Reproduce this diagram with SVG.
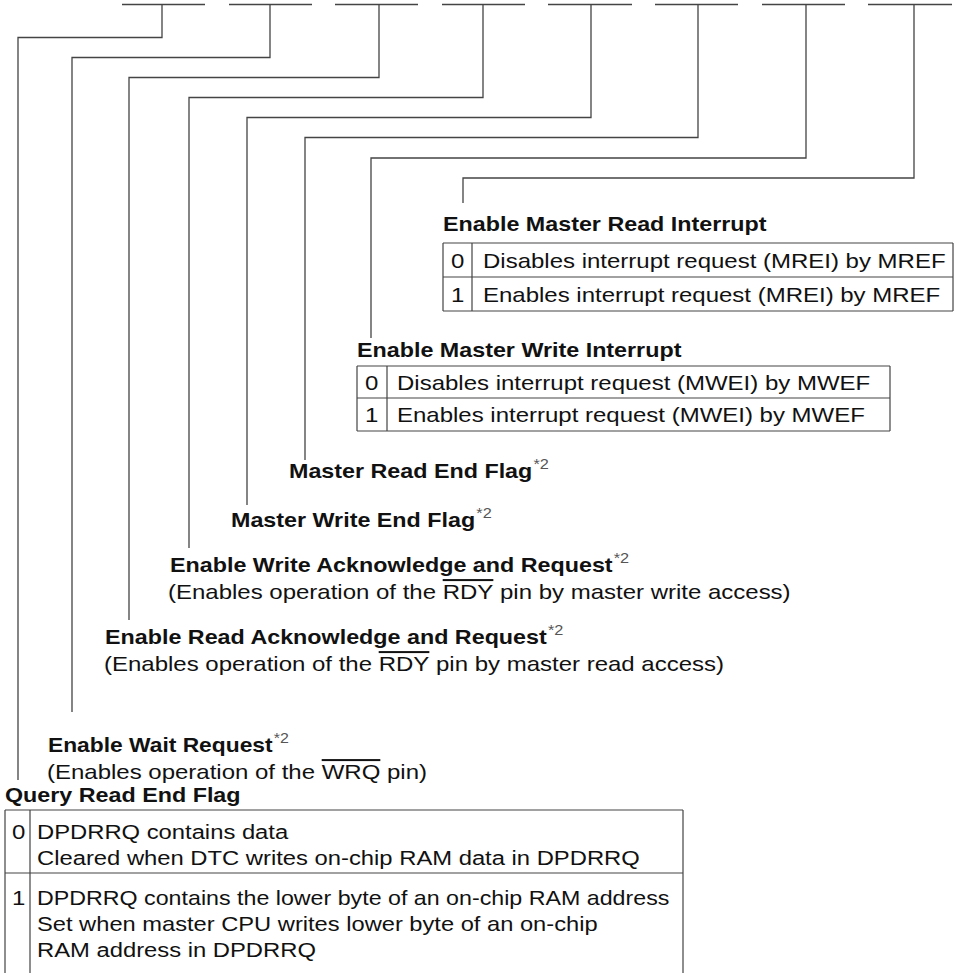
<svg xmlns="http://www.w3.org/2000/svg" width="954" height="973" viewBox="0 0 954 973">
<style>
  .ln { fill: none; stroke: #444; stroke-width: 1.3; }
  .tb { fill: none; stroke: #444; stroke-width: 1.2; }
  text { font-family: "Liberation Sans", Arial, sans-serif; font-size: 20px; fill: #111; }
  .b { font-weight: bold; }
  .sup { font-size: 14px; font-weight: normal; fill: #555; }
  .ov { text-decoration: overline; }
</style>
<rect width="954" height="973" fill="#fff"/>

<g id="bits">
  <path class="ln" d="M122,4.5H205M229,4.5H312M335,4.5H418M442,4.5H525M548,4.5H632M655,4.5H738M762,4.5H845M868,4.5H952"/>
</g>

<g id="connectors">
  <path class="ln" d="M162,5V37.5H18V780"/>
  <path class="ln" d="M270,5V57.5H72V712"/>
  <path class="ln" d="M379,5V77.5H129V620"/>
  <path class="ln" d="M483,5V97.5H189V548"/>
  <path class="ln" d="M591,5V117.5H247V505"/>
  <path class="ln" d="M698,5V137.5H305V460"/>
  <path class="ln" d="M806,5V158H371V338"/>
  <path class="ln" d="M914,5V178H463V203"/>
</g>

<g id="mrie">
  <text class="b" transform="translate(443,231) scale(1.165,1)">Enable Master Read Interrupt</text>
  <path class="tb" d="M443,243H953M443,277H953M443,311H953M443,243V311M472,243V311M953,243V311"/>
  <text transform="translate(451,268) scale(1.2,1)">0</text>
  <text transform="translate(483,268) scale(1.2,1)">Disables interrupt request (MREI) by MREF</text>
  <text transform="translate(451,302) scale(1.2,1)">1</text>
  <text transform="translate(483,302) scale(1.2,1)">Enables interrupt request (MREI) by MREF</text>
</g>

<g id="mwie">
  <text class="b" transform="translate(357,357) scale(1.165,1)">Enable Master Write Interrupt</text>
  <path class="tb" d="M357,366H890M357,398H890M357,431H890M357,366V431M387,366V431M890,366V431"/>
  <text transform="translate(365,390) scale(1.2,1)">0</text>
  <text transform="translate(397,390) scale(1.2,1)">Disables interrupt request (MWEI) by MWEF</text>
  <text transform="translate(365,422) scale(1.2,1)">1</text>
  <text transform="translate(397,422) scale(1.2,1)">Enables interrupt request (MWEI) by MWEF</text>
</g>

<g id="mref">
  <text class="b" transform="translate(289,478) scale(1.165,1)">Master Read End Flag<tspan class="sup" dx="1" dy="-9">*2</tspan></text>
</g>

<g id="mwef">
  <text class="b" transform="translate(231,527) scale(1.165,1)">Master Write End Flag<tspan class="sup" dx="1" dy="-9">*2</tspan></text>
</g>

<g id="wae">
  <text class="b" transform="translate(170,572) scale(1.165,1)">Enable Write Acknowledge and Request<tspan class="sup" dx="1" dy="-9">*2</tspan></text>
  <text transform="translate(168,599) scale(1.2,1)">(Enables operation of the <tspan class="ov">RDY</tspan> pin by master write access)</text>
</g>

<g id="rae">
  <text class="b" transform="translate(105,644) scale(1.165,1)">Enable Read Acknowledge and Request<tspan class="sup" dx="1" dy="-9">*2</tspan></text>
  <text transform="translate(104,671) scale(1.2,1)">(Enables operation of the <tspan class="ov">RDY</tspan> pin by master read access)</text>
</g>

<g id="wre">
  <text class="b" transform="translate(48,752) scale(1.14,1)">Enable Wait Request<tspan class="sup" dx="1" dy="-9">*2</tspan></text>
  <text transform="translate(47,779) scale(1.2,1)">(Enables operation of the <tspan class="ov">WRQ</tspan> pin)</text>
</g>

<g id="qrf">
  <text class="b" transform="translate(5,802) scale(1.165,1)">Query Read End Flag</text>
  <path class="tb" d="M5,810H683M5,873H683M5,810V973M30,810V973M683,810V973"/>
  <text transform="translate(12,839) scale(1.2,1)">0</text>
  <text transform="translate(37,839) scale(1.19,1)">DPDRRQ contains data</text>
  <text transform="translate(37,865) scale(1.19,1)">Cleared when DTC writes on-chip RAM data in DPDRRQ</text>
  <text transform="translate(12,905) scale(1.2,1)">1</text>
  <text transform="translate(37,905) scale(1.2,1)" textLength="527" lengthAdjust="spacingAndGlyphs">DPDRRQ contains the lower byte of an on-chip RAM address</text>
  <text transform="translate(37,931) scale(1.185,1)">Set when master CPU writes lower byte of an on-chip</text>
  <text transform="translate(37,957) scale(1.19,1)">RAM address in DPDRRQ</text>
</g>
</svg>
